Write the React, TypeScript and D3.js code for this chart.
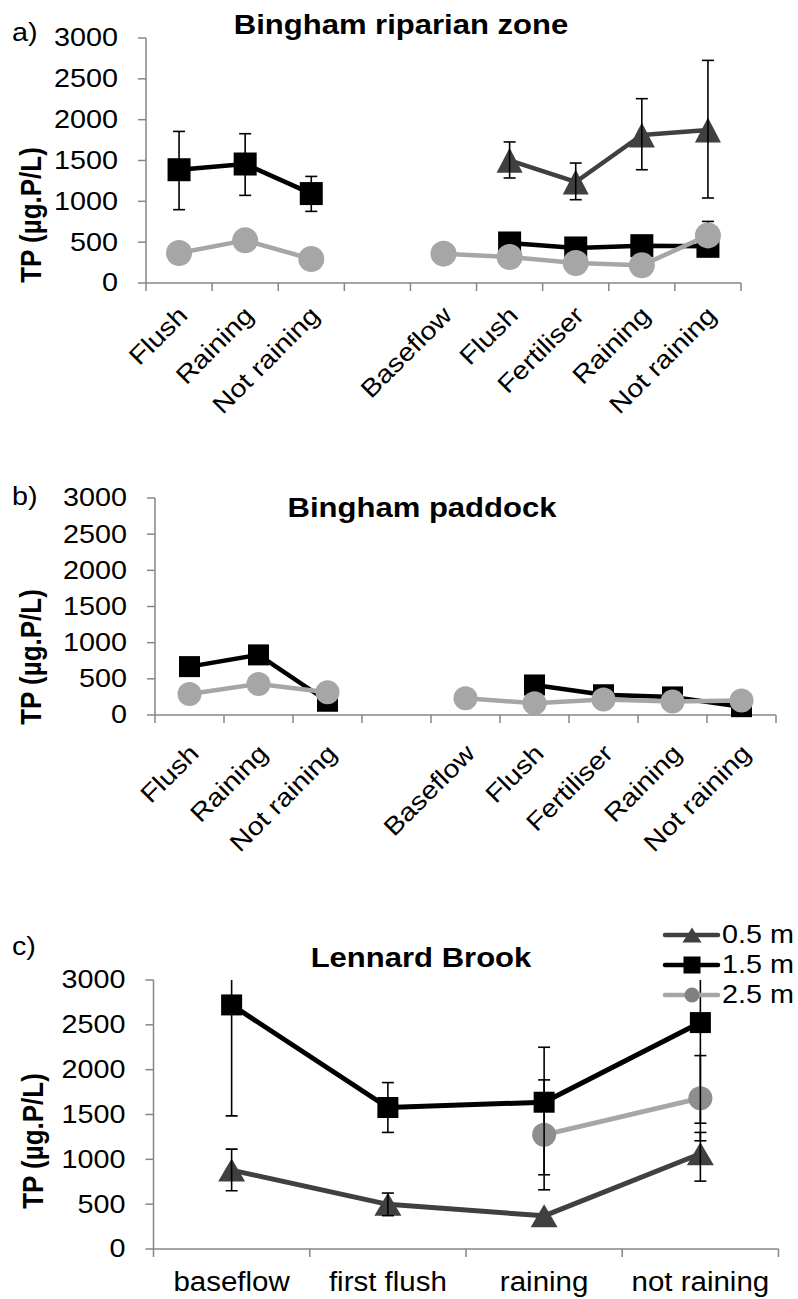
import React from "react";
import * as d3 from "d3";

// ---------- DATA ----------
const catsAB = ["Flush", "Raining", "Not raining", "", "Baseflow", "Flush", "Fertiliser", "Raining", "Not raining"];
const catsC = ["baseflow", "first flush", "raining", "not raining"];
const yTicks = [0, 500, 1000, 1500, 2000, 2500, 3000];
const seriesNames = ["0.5 m", "1.5 m", "2.5 m"];

// Panel a: Bingham riparian zone
const a05 = [null, null, null, null, null, 1502, 1237, 1812, 1873];
const a05Lo = [null, null, null, null, null, 1286, 1020, 1387, 1041];
const a05Hi = [null, null, null, null, null, 1727, 1469, 2257, 2726];
const a15 = [1387, 1457, 1095, null, null, 490, 429, 457, 449];
const a15Lo = [898, 1073, 877, null, null, null, null, null, null];
const a15Hi = [1856, 1828, 1305, null, null, null, null, null, 754];
const a25 = [367, 522, 294, null, 359, 318, 245, 216, 583];

// Panel b: Bingham paddock
const b15 = [669, 831, 190, null, null, 415, 280, 250, 115];
const b15Lo = [null, 760, null, null, null, null, null, null, null];
const b15Hi = [null, 900, null, null, null, null, null, null, null];
const b25 = [291, 430, 314, null, 231, 162, 215, 185, 200];

// Panel c: Lennard Brook
const c05 = [880, 498, 370, 1062];
const c05Lo = [650, 372, null, 757];
const c05Hi = [1114, 624, null, 1300];
const c15 = [2722, 1578, 1637, 2525];
const c15Lo = [1485, 1300, 828, 1403];
const c15Hi = [3959, 1856, 2250, 3647];
const c25 = [null, null, 1273, 1682];
const c25Lo = [null, null, 660, 1207];
const c25Hi = [null, null, 1886, 2157];

// ---------- STYLE ----------
const FONT = "'Liberation Sans', Arial, Helvetica, sans-serif";
const SX = 1.15;
const AXIS = "#868686";
const COL05 = "#404040";
const COL15 = "#000000";
const COL25 = "#a6a6a6";

type Series = {
  values: (number | null)[];
  lo?: (number | null)[];
  hi?: (number | null)[];
  color: string;
  marker: "tri" | "sq" | "circ";
  markerFill?: string;
};

type Panel = {
  id: string;
  label: string;
  title: string;
  cats: string[];
  x0: number; x1: number; yTop: number; yBot: number;
  titleX: number; titleY: number;
  labelY: number;
  ytitleX: number; ytitleY: number;
  rotated: boolean;
  rotDx: number; rotDy: number;
  msize: number; triW: number; triH: number;
  lw: number;
  series: Series[];
};

const panels: Panel[] = [
  {
    id: "a", label: "a)", title: "Bingham riparian zone", cats: catsAB,
    x0: 146, x1: 741, yTop: 38, yBot: 283,
    titleX: 401, titleY: 34, labelY: 33, ytitleX: 31, ytitleY: 215,
    rotated: true, rotDx: 4, rotDy: 28,
    msize: 23, triW: 26, triH: 25, lw: 4.5,
    series: [
      { values: a05, lo: a05Lo, hi: a05Hi, color: COL05, marker: "tri" },
      { values: a15, lo: a15Lo, hi: a15Hi, color: COL15, marker: "sq" },
      { values: a25, color: COL25, marker: "circ" },
    ],
  },
  {
    id: "b", label: "b)", title: "Bingham paddock", cats: catsAB,
    x0: 155, x1: 776, yTop: 498, yBot: 715,
    titleX: 422, titleY: 517, labelY: 497, ytitleX: 31, ytitleY: 657,
    rotated: true, rotDx: 5, rotDy: 34,
    msize: 21, triW: 24, triH: 22, lw: 4.5,
    series: [
      { values: b15, lo: b15Lo, hi: b15Hi, color: COL15, marker: "sq" },
      { values: b25, color: COL25, marker: "circ" },
    ],
  },
  {
    id: "c", label: "c)", title: "Lennard Brook", cats: catsC,
    x0: 153.5, x1: 778.5, yTop: 980, yBot: 1249,
    titleX: 421, titleY: 967, labelY: 947, ytitleX: 33, ytitleY: 1141,
    rotated: false, rotDx: 0, rotDy: 0,
    msize: 21, triW: 27, triH: 23, lw: 5,
    series: [
      { values: c05, lo: c05Lo, hi: c05Hi, color: COL05, marker: "tri" },
      { values: c15, lo: c15Lo, hi: c15Hi, color: COL15, marker: "sq" },
      { values: c25, lo: c25Lo, hi: c25Hi, color: COL25, marker: "circ", markerFill: "#8e8e8e" },
    ],
  },
];

function Marker({ kind, x, y, color, size, triW, triH }: any) {
  if (kind === "sq") return <rect x={x - size / 2} y={y - size / 2} width={size} height={size} fill={color} />;
  if (kind === "circ") return <circle cx={x} cy={y} r={size / 2 + 1.5} fill={color} />;
  const p = d3.path();
  p.moveTo(x, y - triH / 2);
  p.lineTo(x + triW / 2, y + triH / 2);
  p.lineTo(x - triW / 2, y + triH / 2);
  p.closePath();
  return <path d={p.toString()} fill={color} />;
}

function PanelView({ p }: { p: Panel }) {
  const idx = p.cats.map((_, i) => String(i));
  const x = d3.scaleBand<string>().domain(idx).range([p.x0, p.x1]);
  const y = d3.scaleLinear().domain([0, 3000]).range([p.yBot, p.yTop]);
  const cx = (i: number) => (x(String(i)) as number) + x.bandwidth() / 2;
  const line = d3
    .line<number | null>()
    .defined((d) => d != null)
    .x((_, i) => cx(i))
    .y((d) => y(d as number));
  const bounds = d3.range(p.cats.length + 1).map((i) => p.x0 + i * x.step());
  const clipId = `clip-${p.id}`;
  return (
    <g>
      <defs>
        <clipPath id={clipId}>
          <rect x={p.x0 - 30} y={p.yTop} width={p.x1 - p.x0 + 60} height={p.yBot - p.yTop + 40} />
        </clipPath>
      </defs>
      {/* panel letter */}
      <text transform={`translate(12,${p.labelY}) scale(${SX},1)`} fontSize={25} dominantBaseline="central" fontFamily={FONT}>
        {p.label}
      </text>
      {/* title */}
      <text transform={`translate(${p.titleX},${p.titleY}) scale(${SX},1)`} fontSize={27} fontWeight="bold" textAnchor="middle" fontFamily={FONT}>
        {p.title}
      </text>
      {/* y axis title */}
      <text transform={`translate(${p.ytitleX},${p.ytitleY}) scale(${SX},1) rotate(-90)`} fontSize={26} fontWeight="bold" textAnchor="middle" dominantBaseline="central" fontFamily={FONT}>
        TP (µg.P/L)
      </text>
      {/* y axis */}
      <line x1={p.x0} x2={p.x0} y1={p.yTop} y2={p.yBot} stroke={AXIS} strokeWidth={1.5} />
      {yTicks.map((t) => (
        <g key={t}>
          <line x1={p.x0 - 8} x2={p.x0} y1={y(t)} y2={y(t)} stroke={AXIS} strokeWidth={1.5} />
          <text transform={`translate(${p.x0 - 28},${y(t)}) scale(${SX},1)`} fontSize={25} textAnchor="end" dominantBaseline="central" fontFamily={FONT}>
            {t}
          </text>
        </g>
      ))}
      {/* x axis */}
      <line x1={p.x0} x2={p.x1} y1={p.yBot} y2={p.yBot} stroke={AXIS} strokeWidth={1.5} />
      {bounds.map((bx, i) => (
        <line key={i} x1={bx} x2={bx} y1={p.yBot} y2={p.yBot + 8} stroke={AXIS} strokeWidth={1.5} />
      ))}
      {p.cats.map((c, i) =>
        p.rotated ? (
          <text key={i} transform={`translate(${cx(i) + p.rotDx},${p.yBot + p.rotDy}) rotate(-45) scale(${SX},1)`} fontSize={25} textAnchor="end" dominantBaseline="central" fontFamily={FONT}>
            {c}
          </text>
        ) : (
          <text key={i} transform={`translate(${cx(i)},${p.yBot + 32}) scale(${SX * 0.95},1)`} fontSize={27} textAnchor="middle" dominantBaseline="central" fontFamily={FONT}>
            {c}
          </text>
        )
      )}
      {/* series */}
      <g clipPath={`url(#${clipId})`}>
        {p.series.map((s, si) => (
          <g key={si}>
            <path d={line(s.values) || ""} fill="none" stroke={s.color} strokeWidth={p.lw} strokeLinejoin="round" />
            {s.values.map((v, i) =>
              v == null ? null : (
                <Marker key={i} kind={s.marker} x={cx(i)} y={y(v)} color={s.markerFill || s.color} size={p.msize} triW={p.triW} triH={p.triH} />
              )
            )}
            {s.values.map((v, i) => {
              if (v == null) return null;
              const hi = s.hi ? s.hi[i] : null;
              const lo = s.lo ? s.lo[i] : null;
              return (
                <g key={`e${i}`}>
                  {hi != null && (
                    <>
                      <line x1={cx(i)} x2={cx(i)} y1={y(v)} y2={y(hi)} stroke="#000" strokeWidth={1.6} />
                      <line x1={cx(i) - 6} x2={cx(i) + 6} y1={y(hi)} y2={y(hi)} stroke="#000" strokeWidth={1.6} />
                    </>
                  )}
                  {lo != null && (
                    <>
                      <line x1={cx(i)} x2={cx(i)} y1={y(v)} y2={y(lo)} stroke="#000" strokeWidth={1.6} />
                      <line x1={cx(i) - 6} x2={cx(i) + 6} y1={y(lo)} y2={y(lo)} stroke="#000" strokeWidth={1.6} />
                    </>
                  )}
                </g>
              );
            })}
          </g>
        ))}
      </g>
    </g>
  );
}

function Legend() {
  const items = [
    { name: seriesNames[0], color: COL05, marker: "tri", mcol: COL05 },
    { name: seriesNames[1], color: COL15, marker: "sq", mcol: COL15 },
    { name: seriesNames[2], color: COL25, marker: "circ", mcol: "#808080" },
  ];
  const ys = d3.scalePoint<string>().domain(seriesNames).range([935, 995]);
  return (
    <g>
      {items.map((it) => {
        const yy = ys(it.name) as number;
        return (
          <g key={it.name}>
            <line x1={665} x2={718} y1={yy} y2={yy} stroke={it.color} strokeWidth={4.5} strokeLinecap="round" />
            <Marker kind={it.marker} x={692} y={yy} color={it.mcol} size={it.marker === "circ" ? 12 : 17} triW={19} triH={15} />
            <text transform={`translate(722,${yy}) scale(${SX},1)`} fontSize={25} dominantBaseline="central" fontFamily={FONT}>
              {it.name}
            </text>
          </g>
        );
      })}
    </g>
  );
}

export default function App() {
  return (
    <svg width={798} height={1299} style={{ position: "absolute", left: 0, top: 0, background: "#fff" }} fontFamily={FONT}>
      <rect width={798} height={1299} fill="#fff" />
      {panels.map((p) => (
        <PanelView key={p.id} p={p} />
      ))}
      <Legend />
    </svg>
  );
}
